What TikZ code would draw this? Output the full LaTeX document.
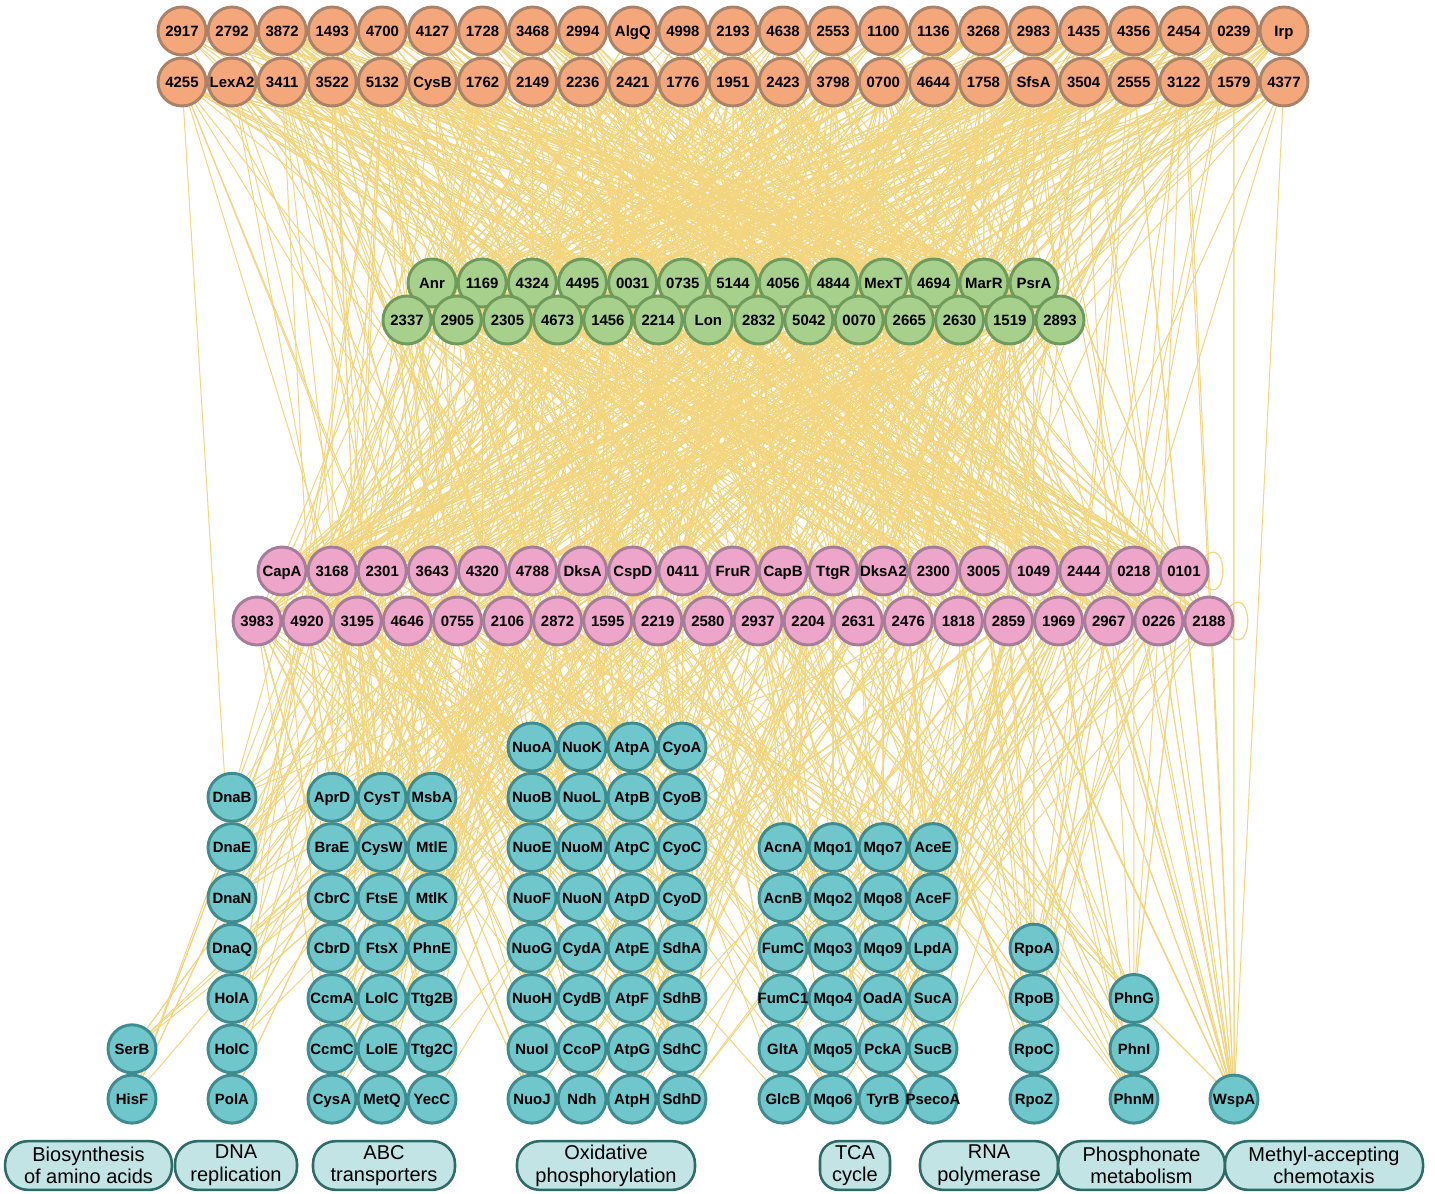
\documentclass[tikz,border=0pt]{standalone}
\usepackage{fontspec}
\setmainfont{Liberation Sans}
\usetikzlibrary{backgrounds}
\definecolor{ofill}{HTML}{F4A77A}
\definecolor{odraw}{HTML}{A8836A}
\definecolor{gfill}{HTML}{A7D08C}
\definecolor{gdraw}{HTML}{6E9B5B}
\definecolor{pfill}{HTML}{EDA5CA}
\definecolor{pdraw}{HTML}{A47E98}
\definecolor{bfill}{HTML}{6FC7CB}
\definecolor{bdraw}{HTML}{3E8C90}
\definecolor{lfill}{HTML}{C2E4E4}
\definecolor{ldraw}{HTML}{2D6B67}
\definecolor{ecol}{HTML}{F2D57E}
\begin{document}
\begin{tikzpicture}[x=0.75pt,y=-0.75pt,
  nd/.style={circle,minimum size=36pt,inner sep=-5pt,line width=2.2pt,text height=8pt,text depth=0pt,font=\fontsize{11.2}{12}\selectfont\bfseries},
  orn/.style={nd,fill=ofill,draw=odraw},
  grn/.style={nd,fill=gfill,draw=gdraw},
  pnk/.style={nd,fill=pfill,draw=pdraw},
  bln/.style={nd,fill=bfill,draw=bdraw},
  lab/.style={draw=ldraw,fill=lfill,line width=1.9pt,rounded corners=17pt,minimum height=36.5pt,inner sep=0pt,align=center,font=\fontsize{15}{17}\selectfont},
  lnk/.style={draw=ecol,line width=0.75pt}]
\useasboundingbox (0,0) rectangle (1435,1194);
\pgfmathsetseed{4242}
% ---------- orange ----------
\foreach \t [count=\i] in {2917,2792,3872,1493,4700,4127,1728,3468,2994,AlgQ,4998,2193,4638,2553,1100,1136,3268,2983,1435,4356,2454,0239,Irp}
  \node[orn] (o\i) at ({182+50.09*(\i-1)},31) {\t};
\foreach \t [count=\i, evaluate=\i as \k using int(\i+23)] in {4255,LexA2,3411,3522,5132,CysB,1762,2149,2236,2421,1776,1951,2423,3798,0700,4644,1758,SfsA,3504,2555,3122,1579,4377}
  \node[orn] (o\k) at ({182+50.09*(\i-1)},82) {\t};
% ---------- green ----------
\foreach \t [count=\i] in {Anr,1169,4324,4495,0031,0735,5144,4056,4844,MexT,4694,MarR,PsrA}
  \node[grn] (g\i) at ({432+50.17*(\i-1)},283) {\t};
\foreach \t [count=\i, evaluate=\i as \k using int(\i+13)] in {2337,2905,2305,4673,1456,2214,Lon,2832,5042,0070,2665,2630,1519,2893}
  \node[grn] (g\k) at ({407+50.23*(\i-1)},320) {\t};
% ---------- pink ----------
\foreach \t [count=\i] in {CapA,3168,2301,3643,4320,4788,DksA,CspD,0411,FruR,CapB,TtgR,DksA2,2300,3005,1049,2444,0218,0101}
  \node[pnk] (p\i) at ({282+50.11*(\i-1)},571) {\t};
\foreach \t [count=\i, evaluate=\i as \k using int(\i+19)] in {3983,4920,3195,4646,0755,2106,2872,1595,2219,2580,2937,2204,2631,2476,1818,2859,1969,2967,0226,2188}
  \node[pnk] (p\k) at ({257+50.1*(\i-1)},621) {\t};
% ---------- blue ----------
\def\bluelist{132/7/{SerB,HisF},
  232/2/{DnaB,DnaE,DnaN,DnaQ,HolA,HolC,PolA},
  332/2/{AprD,BraE,CbrC,CbrD,CcmA,CcmC,CysA},
  382/2/{CysT,CysW,FtsE,FtsX,LolC,LolE,MetQ},
  432/2/{MsbA,MtlE,MtlK,PhnE,Ttg2B,Ttg2C,YecC},
  532/1/{NuoA,NuoB,NuoE,NuoF,NuoG,NuoH,NuoI,NuoJ},
  582/1/{NuoK,NuoL,NuoM,NuoN,CydA,CydB,CcoP,Ndh},
  632/1/{AtpA,AtpB,AtpC,AtpD,AtpE,AtpF,AtpG,AtpH},
  682/1/{CyoA,CyoB,CyoC,CyoD,SdhA,SdhB,SdhC,SdhD},
  783/3/{AcnA,AcnB,FumC,FumC1,GltA,GlcB},
  833/3/{Mqo1,Mqo2,Mqo3,Mqo4,Mqo5,Mqo6},
  883/3/{Mqo7,Mqo8,Mqo9,OadA,PckA,TyrB},
  933/3/{AceE,AceF,LpdA,SucA,SucB,PsecoA},
  1034/5/{RpoA,RpoB,RpoC,RpoZ},
  1134/6/{PhnG,PhnI,PhnM},
  1234/8/{WspA}}
\foreach \cx/\rs/\lst in \bluelist {
  \foreach \t [count=\k] in \lst
    \node[bln] (b\t) at (\cx,{747+50.3*(\rs+\k-2)}) {\t};
}
% ---------- labels ----------
\node[lab,minimum width=125pt] (l1) at (88.5,1165.5) {Biosynthesis\\of amino acids};
\node[lab,minimum width=91.5pt] (l2) at (236,1165.5) {DNA\\replication};
\node[lab,minimum width=106.5pt] (l3) at (384,1165.5) {ABC\\transporters};
\node[lab,minimum width=133.5pt] (l4) at (606,1165.5) {Oxidative\\phosphorylation};
\node[lab,minimum width=52.5pt,rounded corners=14pt] (l5) at (855,1165.5) {TCA\\cycle};
\node[lab,minimum width=103.5pt] (l6) at (989,1165.5) {RNA\\polymerase};
\node[lab,minimum width=125pt] (l7) at (1141.5,1165.5) {Phosphonate\\metabolism};
\node[lab,minimum width=148.5pt] (l8) at (1324,1165.5) {Methyl-accepting\\chemotaxis};
% ---------- edges ----------
\begin{pgfonlayer}{background}
% green -> orange
\foreach \k in {1,...,27}{
  \foreach \e in {1,...,19}{
    \pgfmathrandominteger{\j}{1}{46}
    \draw[lnk] (g\k) -- (o\j);
  }
}
% pink -> green, pink -> orange
\foreach \k in {1,...,39}{
  \foreach \e in {1,...,11}{
    \pgfmathrandominteger{\j}{1}{27}
    \draw[lnk] (p\k) -- (g\j);
  }
  \foreach \e in {1,...,6}{
    \pgfmathrandominteger{\j}{1}{46}
    \draw[lnk] (p\k) -- (o\j);
  }
}
% blue -> pink / orange / green  (index near the node's x, reflected at the ends)
\foreach \cx/\rs/\lst in \bluelist {
  \foreach \t in \lst {
    \pgfmathrandominteger{\ne}{3}{8}
    \foreach \e in {1,...,\ne}{
      \pgfmathrandominteger{\rw}{0}{1}
      \pgfmathrandominteger{\off}{-8}{8}
      \pgfmathtruncatemacro\nn{\rw==0 ? 19 : 20}
      \pgfmathtruncatemacro\tt{abs(round((\cx-(\rw==0 ? 282 : 257))/50.1)+\off)}
      \pgfmathtruncatemacro\tt{\tt>\nn-1 ? 2*(\nn-1)-\tt : \tt}
      \pgfmathtruncatemacro\j{(\rw==0 ? 0 : 19)+\tt+1}
      \draw[lnk] (b\t) -- (p\j);
    }
    \pgfmathrandominteger{\q}{0}{9}
    \ifnum\q<6
      \pgfmathrandominteger{\off}{-7}{7}
      \pgfmathtruncatemacro\tt{abs(round((\cx-182)/50.09)+\off)}
      \pgfmathtruncatemacro\tt{\tt>22 ? 44-\tt : \tt}
      \pgfmathtruncatemacro\j{24+\tt}
      \draw[lnk] (b\t) -- (o\j);
    \fi
    \pgfmathrandominteger{\q}{0}{9}
    \ifnum\q<5
      \pgfmathrandominteger{\j}{1}{27}
      \draw[lnk] (b\t) -- (g\j);
    \fi
  }
}
% extra to WspA
\foreach \j in {16,19,21,22,39,41,43,44,45,46}
  \draw[lnk] (bWspA) -- (o\j);
\foreach \j in {15,17,18,35,36,37,38}
  \draw[lnk] (bWspA) -- (p\j);
% self loops
\draw[lnk,line width=0.9pt] (p19.35) .. controls +(24,-22) and +(24,22) .. (p19.-35);
\draw[lnk,line width=0.9pt] (p39.35) .. controls +(24,-22) and +(24,22) .. (p39.-35);
\end{pgfonlayer}
\end{tikzpicture}
\end{document}
